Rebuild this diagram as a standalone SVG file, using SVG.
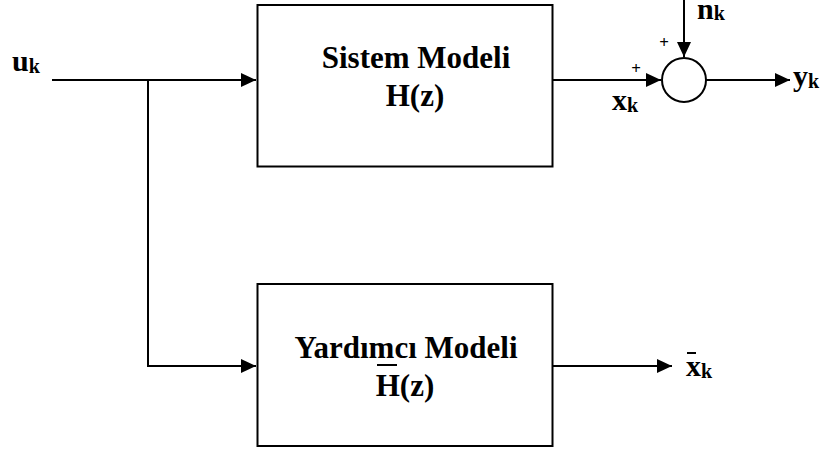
<svg xmlns="http://www.w3.org/2000/svg" width="824" height="452" viewBox="0 0 824 452">
  <style>
    .blk { fill: #fff; stroke: #000; stroke-width: 2; }
    .wire { fill: none; stroke: #000; stroke-width: 2; }
    .t { font-family: "Liberation Serif", "Times New Roman", serif; font-weight: bold; fill: #000; }
    .big { font-size: 31px; text-anchor: middle; }
    .lbl { font-size: 30px; }
    .sub { font-size: 20px; }
    .pl { font-size: 17px; text-anchor: middle; }
  </style>
  <defs>
    <marker id="arr" markerUnits="userSpaceOnUse" markerWidth="16" markerHeight="14" refX="15" refY="7" orient="auto">
      <path d="M0,0 L15,7 L0,14 Z" fill="#000"/>
    </marker>
  </defs>
  <rect width="824" height="452" fill="#fff"/>

  <g id="connectors">
    <path class="wire" d="M52,80 H256" marker-end="url(#arr)"/>
    <path class="wire" d="M148,80 V366 H256" marker-end="url(#arr)"/>
    <path class="wire" d="M553,80 H661" marker-end="url(#arr)"/>
    <path class="wire" d="M684,0 V57" marker-end="url(#arr)"/>
    <path class="wire" d="M706,80 H790" marker-end="url(#arr)"/>
    <path class="wire" d="M553,366 H672" marker-end="url(#arr)"/>
  </g>

  <g id="system-model">
    <rect class="blk" x="257.5" y="5" width="295" height="161.5"/>
    <text class="t big" x="416" y="68">Sistem Modeli</text>
    <text class="t big" x="415" y="106">H(z)</text>
  </g>

  <g id="helper-model">
    <rect class="blk" x="257.5" y="284" width="295" height="162"/>
    <text class="t big" x="406" y="358">Yardımcı Modeli</text>
    <text class="t big" x="405" y="396">H(z)</text>
    <line x1="377" y1="365" x2="397" y2="365" stroke="#000" stroke-width="2"/>
  </g>

  <g id="summer">
    <circle class="blk" cx="684" cy="80" r="22"/>
    <text class="t pl" x="664" y="48">+</text>
    <text class="t pl" x="636" y="74">+</text>
  </g>

  <g id="labels">
    <text class="t lbl" x="12" y="71">u<tspan class="sub" dy="2">k</tspan></text>
    <text class="t lbl" x="612" y="110">x<tspan class="sub" dy="2">k</tspan></text>
    <text class="t lbl" x="697" y="19">n<tspan class="sub" dy="1">k</tspan></text>
    <text class="t lbl" x="793" y="86">y<tspan class="sub" dy="2">k</tspan></text>
    <text class="t lbl" x="686" y="376">x<tspan class="sub" dy="2">k</tspan></text>
    <line x1="687" y1="353" x2="696" y2="353" stroke="#000" stroke-width="2"/>
  </g>
</svg>
